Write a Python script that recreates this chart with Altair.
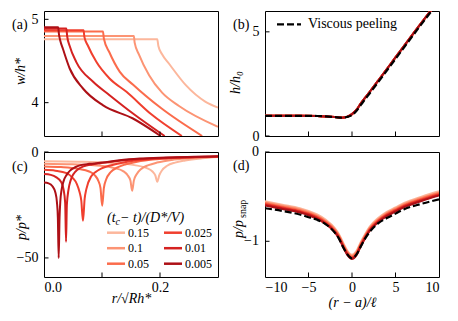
import altair as alt
import pandas as pd

FONT = "Liberation Serif, Times New Roman, serif"
W, H = 174, 125

series = ["0.15", "0.1", "0.05", "0.025", "0.01", "0.005"]
colors = ["#fcb79c", "#fc9474", "#fb6c4c", "#f03f2e", "#d52221", "#ad1016"]

# ---- panel (a): w/h* vs r/sqrt(R h*)
a_r = [
    [0, 0.1953, 0.1972, 0.2036, 0.2153, 0.2445, 0.2786, 0.30],
    [0, 0.1549, 0.1563, 0.1636, 0.1812, 0.2036, 0.2328, 0.30],
    [0, 0.1017, 0.1032, 0.1127, 0.1307, 0.1537, 0.2017, 0.2727],
    [0, 0.0682, 0.0696, 0.0760, 0.0902, 0.1130, 0.1422, 0.1850, 0.2377],
    [0, 0.0385, 0.0399, 0.0443, 0.0555, 0.0847, 0.1130, 0.1534, 0.2080],
    [0, 0.0244, 0.0258, 0.0282, 0.0327, 0.0443, 0.0672, 0.1013, 0.1534, 0.2011],
]
a_w = [
    [4.76, 4.76, 4.68, 4.58, 4.47, 4.21, 4.01, 3.94],
    [4.80, 4.80, 4.72, 4.58, 4.33, 4.12, 3.96, 3.71],
    [4.855, 4.855, 4.77, 4.605, 4.37, 4.215, 3.935, 3.60],
    [4.87, 4.87, 4.79, 4.68, 4.49, 4.29, 4.13, 3.86, 3.60],
    [4.89, 4.89, 4.80, 4.68, 4.49, 4.25, 4.09, 3.87, 3.60],
    [4.905, 4.905, 4.82, 4.74, 4.644, 4.41, 4.17, 3.97, 3.81, 3.60],
]

# ---- panel (c): p/p* vs r/sqrt(R h*)
c_r = [
    [0, 0.0584, 0.1169, 0.1558, 0.1773, 0.1870, 0.1919, 0.1953, 0.1987, 0.2036, 0.2123, 0.2260, 0.2435, 0.2727, 0.30],
    [0, 0.0487, 0.0974, 0.1218, 0.1364, 0.1442, 0.1490, 0.1520, 0.1549, 0.1597, 0.1675, 0.1802, 0.1948, 0.2240, 0.2630, 0.30],
    [0, 0.0292, 0.0584, 0.0779, 0.0877, 0.0935, 0.0974, 0.1003, 0.1032, 0.1071, 0.1149, 0.1266, 0.1412, 0.1607, 0.1948, 0.2435, 0.30],
    [0, 0.0195, 0.0390, 0.0497, 0.0565, 0.0614, 0.0643, 0.0672, 0.0701, 0.0730, 0.0815, 0.0896, 0.0984, 0.1120, 0.1266, 0.1656, 0.2143, 0.30],
    [0, 0.0117, 0.0214, 0.0292, 0.0336, 0.0365, 0.0380, 0.0394, 0.0424, 0.0458, 0.0506, 0.0584, 0.0682, 0.0828, 0.0974, 0.1266, 0.1656, 0.2143, 0.30],
    [0, 0.0080, 0.0146, 0.0195, 0.0224, 0.0239, 0.0253, 0.0268, 0.0282, 0.0302, 0.0341, 0.0390, 0.0448, 0.0536, 0.0633, 0.0780, 0.1000, 0.1300, 0.1650, 0.2100, 0.30],
]
c_p = [
    [-4.4, -4.6, -5.2, -6.2, -7.6, -9.2, -11, -14, -11, -8.6, -6.5, -5.0, -4.0, -3.0, -2.4],
    [-5.5, -5.8, -6.5, -7.6, -9.0, -11, -13.5, -18.3, -13.5, -10.5, -8.0, -6.2, -5.0, -3.6, -2.7, -2.2],
    [-6.8, -7.1, -7.9, -9.2, -11, -13.5, -17, -25.4, -17, -13, -9.5, -7.3, -5.8, -4.6, -3.4, -2.6, -2.1],
    [-8.4, -8.8, -10, -12.3, -15, -19, -23, -32.5, -22, -17.5, -11.5, -9.3, -7.8, -6.5, -5.5, -3.8, -2.9, -2.2],
    [-10.4, -10.8, -12, -14, -17.5, -24, -42.4, -25, -17.5, -13.5, -10.5, -8.2, -6.8, -5.9, -5.3, -4.2, -3.3, -2.7, -2.1],
    [-14.4, -14.8, -16.2, -19, -24, -31, -50, -31, -23, -18, -13.5, -10.8, -8.8, -7.2, -6.2, -5.6, -5.0, -3.9, -3.1, -2.6, -2.0],
]

# ---- panel (b): h/h0 vs (r-a)/l
b_x = [-10, -8, -6, -4, -3, -2, -1.2, -0.6, 0, 0.5, 1, 1.5, 2, 3, 5, 7, 9.2, 10]
b_h = [0.97, 0.97, 0.97, 0.96, 0.94, 0.91, 0.88, 0.92, 1.05, 1.25, 1.55, 1.83, 2.10, 2.65, 3.77, 4.89, 6.10, 6.55]
b_peel = [0.97, 0.97, 0.97, 0.96, 0.94, 0.91, 0.88, 0.91, 1.00, 1.20, 1.48, 1.76, 2.03, 2.58, 3.70, 4.82, 6.03, 6.45]

# ---- panel (d): p/p_snap vs (r-a)/l
d_x = [-10, -8, -6, -5, -4, -3, -2, -1.5, -1, -0.5, 0, 0.5, 1, 1.5, 2, 3, 4, 5, 6, 8, 10]
d_p = [-0.58, -0.62, -0.66, -0.69, -0.73, -0.79, -0.88, -0.95, -1.05, -1.14, -1.18,
       -1.14, -1.04, -0.95, -0.87, -0.77, -0.70, -0.65, -0.60, -0.53, -0.47]
d_spread = [0.03, 0.018, 0.008, -0.002, -0.010, -0.018]
d_peel = [-0.63, -0.66, -0.70, -0.73, -0.76, -0.81, -0.90, -0.97, -1.07, -1.15, -1.19,
          -1.15, -1.06, -0.97, -0.90, -0.80, -0.74, -0.69, -0.64, -0.58, -0.53]
d_yticks = [-1, 0]
d_yticklabels = ["−1", "0"]


def yaxis(values, fmt, title, tx, ty, labels=True):
    kw = dict(values=values, ticks=False, tickSize=0, domain=False, grid=False, labels=labels)
    if labels:
        kw.update(format=fmt, labelFont=FONT, labelFontSize=14, labelColor="black", labelPadding=6)
    if title:
        kw.update(title=title, titleFont=FONT, titleFontSize=14, titleFontWeight="normal",
                  titleFontStyle="italic", titleColor="black", titleX=tx, titleY=ty,
                  titleAngle=-90, titleAlign="center", titleBaseline="middle")
    else:
        kw.update(title=None)
    return alt.Axis(**kw)


def xaxis(values, fmt, title, tx, ty):
    return alt.Axis(values=values, format=fmt, title=title, ticks=False, tickSize=0,
                    domain=False, grid=False, labelFont=FONT, labelFontSize=14,
                    labelColor="black", labelPadding=3, titleFont=FONT,
                    titleFontSize=14, titleFontWeight="normal", titleFontStyle="italic",
                    titleColor="black", titleX=tx, titleY=ty,
                    titleAlign="center", titleBaseline="middle")


def line(df, xf, yf, xs, ys, xa, ya, color, width=2.0, dash=None):
    kw = dict(color=color, strokeWidth=width, clip=True, interpolate="monotone")
    if dash:
        kw["strokeDash"] = dash
    return alt.Chart(df).mark_line(**kw).encode(
        x=alt.X(f"{xf}:Q", scale=xs, axis=xa),
        y=alt.Y(f"{yf}:Q", scale=ys, axis=ya),
    )


def yticks(vals, yf, ya):
    return alt.Chart(pd.DataFrame({yf: vals})).mark_rule(color="black", strokeWidth=1).encode(
        y=alt.Y(f"{yf}:Q", axis=ya), x=alt.value(0), x2=alt.value(4.5))


def xticks(vals, xf, xa):
    return alt.Chart(pd.DataFrame({xf: vals})).mark_rule(color="black", strokeWidth=1).encode(
        x=alt.X(f"{xf}:Q", axis=xa), y=alt.value(H), y2=alt.value(H - 4.5))


def text(t, x, y, size=14, align="left", style="normal", baseline="middle", color="black", angle=0):
    return alt.Chart(pd.DataFrame({"t": [t]})).mark_text(
        font=FONT, fontSize=size, align=align, baseline=baseline, fontStyle=style,
        color=color, angle=angle
    ).encode(text="t:N", x=alt.value(x), y=alt.value(y))


def hseg(x1, x2, y, color, width=2.5, dash=None):
    kw = dict(color=color, strokeWidth=width)
    if dash:
        kw["strokeDash"] = dash
    return alt.Chart(pd.DataFrame({"k": [0]})).mark_rule(**kw).encode(
        x=alt.value(x1), x2=alt.value(x2), y=alt.value(y))


# ---------- (a)
xs_r = alt.Scale(domain=[0, 0.3], nice=False, zero=False)
ys_a = alt.Scale(domain=[3.6, 5.1], nice=False, zero=False)
ya_a = yaxis([4, 5], "d", "w/h*", -24, 60)
layers_a = []
for i in range(6):
    df = pd.DataFrame({"r": a_r[i], "w": a_w[i]})
    layers_a.append(line(df, "r", "w", xs_r, ys_a, None, ya_a, colors[i]))
layers_a += [yticks([4, 5], "w", ya_a), xticks([0.1, 0.2], "r", None), text("(a)", -32, 13.5)]
panel_a = alt.layer(*layers_a).properties(width=W, height=H)

# ---------- (b)
xs_x = alt.Scale(domain=[-10, 10], nice=False, zero=False)
ys_b = alt.Scale(domain=[0, 6], nice=False, zero=False)
ya_b = yaxis([0, 5], "d", "h/h₀", -30, 71)
layers_b = []
for i in range(6):
    df = pd.DataFrame({"x": b_x, "h": b_h})
    layers_b.append(line(df, "x", "h", xs_x, ys_b, None, ya_b, colors[i]))
layers_b.append(line(pd.DataFrame({"x": b_x, "h": b_peel}), "x", "h", xs_x, ys_b, None, ya_b,
                     "black", 2.2, [7, 3]))
layers_b += [yticks([0, 5], "h", ya_b), xticks([-5, 0, 5], "x", None), text("(b)", -32, 13.5),
             hseg(12, 36, 13.3, "black", 2.2, [7, 3]), text("Viscous peeling", 43, 13.3)]
panel_b = alt.layer(*layers_b).properties(width=W, height=H)

# ---------- (c)
ys_c = alt.Scale(domain=[-59, 0], nice=False, zero=False)
ya_c = yaxis([-50, 0], "d", "p/p*", -23, 75)
xa_c = xaxis([0, 0.2], ".1f", "r/√Rh*", 87, 21)
layers_c = []
for i in range(6):
    df = pd.DataFrame({"r": c_r[i], "p": c_p[i]})
    layers_c.append(line(df, "r", "p", xs_r, ys_c, xa_c, ya_c, colors[i]))
layers_c += [yticks([-50, 0], "p", ya_c), xticks([0.1, 0.2], "r", xa_c), text("(c)", -32, 14.5)]
# legend (column-major, like the original)
layers_c += [text("(t", 63, 65.7, 14, style="italic"),
             text("c", 71.5, 69.5, 10, style="italic"),
             text("  −  t)/(D*/V)", 76, 65.7, 14, style="italic")]
for i, s in enumerate(series):
    col, row = divmod(i, 3)
    x0 = 63 + col * 57
    y0 = 80.7 + row * 15.5
    layers_c.append(hseg(x0, x0 + 18, y0, colors[i], 2.5))
    layers_c.append(text(s, x0 + 21, y0, 12))
panel_c = alt.layer(*layers_c).properties(width=W, height=H)

# ---------- (d)
ys_d = alt.Scale(domain=[-1.4, 0], nice=False, zero=False)
ya_d = yaxis([-1, 0], "d", None, 0, 0, labels=False)
xa_d = xaxis([-10, -5, 0, 5, 10], "d", "(r − a)/ℓ", 87, 25)
layers_d = []
for i in range(6):
    df = pd.DataFrame({"x": d_x, "p": [v + d_spread[i] for v in d_p]})
    layers_d.append(line(df, "x", "p", xs_x, ys_d, xa_d, ya_d, colors[i]))
layers_d.append(line(pd.DataFrame({"x": d_x, "p": d_peel}), "x", "p", xs_x, ys_d, xa_d, ya_d,
                     "black", 2.2, [7, 3]))
d_lab = alt.Chart(pd.DataFrame({"p": d_yticks, "lab": d_yticklabels})).mark_text(
    font=FONT, fontSize=14, align="right", baseline="middle", color="black", clip=False
).encode(y=alt.Y("p:Q", axis=ya_d), x=alt.value(-6), text="lab:N")
layers_d += [yticks([-1, 0], "p", ya_d), xticks([-5, 0, 5], "x", xa_d), d_lab,
             text("(d)", -32, 13.5),
             text("p/p", -26, 86, 14, style="italic", angle=270),
             text("snap", -22, 66, 10, angle=270)]
panel_d = alt.layer(*layers_d).properties(width=W, height=H)

chart = alt.concat(panel_a, panel_b, panel_c, panel_d, columns=2,
                   spacing={"row": 16, "column": 47}, bounds="flush").properties(
    padding={"left": 3, "top": 2, "right": 5, "bottom": 5}
).configure_view(stroke="black", strokeWidth=1)

chart.save("out.html", embed_options={"renderer": "svg", "actions": False})
